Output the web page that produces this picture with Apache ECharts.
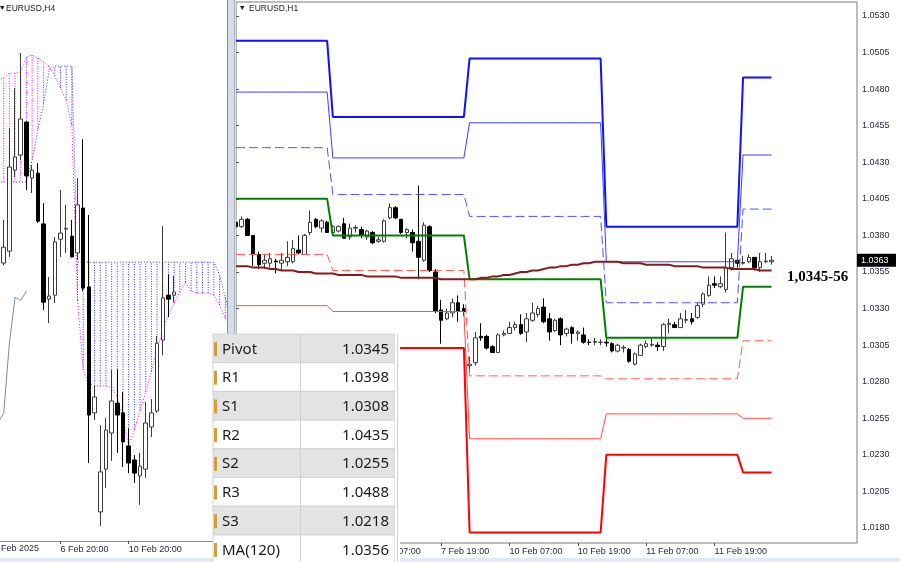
<!DOCTYPE html>
<html><head><meta charset="utf-8">
<script src="https://cdn.jsdelivr.net/npm/echarts@6/dist/echarts.min.js"></script>
<style>html,body{margin:0;padding:0;background:#fff;overflow:hidden}#c{width:900px;height:562px}</style>
</head><body><div id="c"></div>
<script>
// ================= H1 panel (right) =================
const h1Days = ['6 Feb', '7 Feb', '10 Feb', '11 Feb', '12 Feb'];
const h1FirstHour = [7, 0, 0, 0, 0];
const h1LastHour = [23, 23, 23, 23, 20];
const h1TickHours = ['07', '19'];
const h1LastTickLabel = '11 Feb 19:00';

// [open, close, low, high]
const h1Candles = [
 [1.0389,1.0386,1.0385,1.0390],[1.0386,1.0391,1.0385,1.0393],[1.0391,1.0380,1.0380,1.0392],[1.0380,1.0367,1.0359,1.0380],
 [1.0367,1.0360,1.0357,1.0369],[1.0361,1.0363,1.0357,1.0367],[1.0361,1.0364,1.0358,1.0368],[1.03625,1.0362,1.0354,1.0364],
 [1.0361,1.0363,1.0356,1.0368],[1.0362,1.0365,1.0359,1.0376],[1.0362,1.0371,1.0361,1.0377],[1.0370,1.0368,1.0367,1.0380],
 [1.0367,1.0380,1.0367,1.0381],[1.0382,1.0389,1.0380,1.0397],[1.0391,1.0386,1.0385,1.0392],[1.0385,1.0390,1.0382,1.0391],
 [1.0389,1.0382,1.0382,1.0390],[1.0382,1.0386,1.0382,1.0387],[1.0383,1.0386,1.0382,1.0387],[1.0388,1.0378,1.0378,1.0392],
 [1.0379,1.0385,1.0377,1.0388],[1.0385,1.03855,1.0382,1.0387],[1.0384,1.0380,1.0378,1.0386],[1.0379,1.0383,1.0377,1.0384],
 [1.0382,1.0375,1.0374,1.0383],[1.0376,1.0377,1.0375,1.0379],[1.0376,1.0390,1.0375,1.0391],[1.0392,1.0399,1.0391,1.0402],
 [1.0399,1.0392,1.0391,1.0400],[1.0391,1.0382,1.0381,1.0391],[1.0382,1.0384,1.0378,1.0385],[1.0382,1.0375,1.0369,1.0384],
 [1.0376,1.0365,1.0350,1.0414],[1.0363,1.0387,1.0362,1.0389],[1.0386,1.0356,1.0355,1.0387],[1.0355,1.0328,1.0327,1.0357],
 [1.0329,1.0322,1.0306,1.0336],[1.0323,1.0327,1.0322,1.0330],[1.0327,1.0334,1.0324,1.0337],[1.0334,1.0328,1.0321,1.0339],
 [1.0330,1.0328,1.0325,1.0333],[1.0291,1.0292,1.0287,1.0297],[1.0293,1.0310,1.0291,1.0314],[1.0311,1.0310,1.0308,1.0320],
 [1.0311,1.0303,1.0302,1.0312],[1.0304,1.0300,1.0300,1.0305],[1.0300,1.0312,1.0300,1.0313],[1.0312,1.0313,1.0311,1.0315],
 [1.0313,1.0317,1.0313,1.0321],[1.0317,1.0319,1.0315,1.0321],[1.0319,1.0313,1.0312,1.0326],[1.0314,1.0323,1.0307,1.0327],
 [1.0322,1.0327,1.0321,1.0334],[1.0326,1.0330,1.0324,1.0332],[1.0331,1.0321,1.0320,1.0337],[1.0323,1.0314,1.0308,1.0327],
 [1.0315,1.0322,1.0314,1.0323],[1.0323,1.0312,1.0305,1.0324],[1.0313,1.0316,1.0311,1.0317],[1.0317,1.0313,1.0306,1.0318],
 [1.0313,1.0314,1.0308,1.0315],[1.0312,1.0307,1.0306,1.0317],[1.0307,1.03068,1.0305,1.0309],[1.0307,1.03075,1.0305,1.0310],
 [1.0307,1.0307,1.0305,1.0309],[1.0307,1.03065,1.0304,1.0310],[1.0306,1.0301,1.0300,1.0307],[1.0301,1.0305,1.0300,1.0306],
 [1.0303,1.03035,1.0300,1.0305],[1.0302,1.0294,1.0293,1.0303],[1.0292,1.0299,1.0291,1.0300],[1.0298,1.0305,1.0298,1.0306],
 [1.0304,1.0306,1.0303,1.0308],[1.0305,1.03055,1.0304,1.0310],[1.0305,1.0304,1.0301,1.0307],[1.0304,1.0319,1.0301,1.0320],
 [1.0319,1.0320,1.0313,1.0323],[1.0319,1.0317,1.0317,1.0321],[1.0317,1.0323,1.0317,1.0327],[1.0322,1.03225,1.0320,1.0329],
 [1.0323,1.0321,1.0319,1.0327],[1.0324,1.0332,1.0323,1.0334],[1.0333,1.0340,1.0331,1.0341],[1.0339,1.0346,1.0338,1.0352],
 [1.0347,1.0346,1.0344,1.0352],[1.0345,1.0347,1.0344,1.0352],[1.0343,1.0358,1.0341,1.0382],[1.0358,1.0364,1.0356,1.0368],
 [1.0363,1.0361,1.0358,1.0365],[1.0361,1.03615,1.0360,1.0366],[1.0362,1.0365,1.0361,1.0367],[1.0365,1.0358,1.0356,1.0365],
 [1.0358,1.0362,1.0355,1.0368],[1.0362,1.03625,1.0361,1.0368],[1.0362,1.0363,1.0360,1.0366]
];

// daily pivot levels (one value per day in h1Days)
const levelR3 = [1.0513, 1.0461, 1.0501, 1.0386, 1.0488];
const levelR2 = [1.0478, 1.0433, 1.0457, 1.0362, 1.0435];
const levelR1 = [1.0440, 1.0408, 1.0393, 1.0334, 1.0398];
const levelP  = [1.0405, 1.0380, 1.0350, 1.0310, 1.0345];
const levelS1 = [1.0367, 1.0356, 1.0284, 1.0282, 1.0308];
const levelS2 = [1.0332, 1.0328, 1.0241, 1.0258, 1.0255];
const levelS3 = [1.0294, 1.0303, 1.0177, 1.0230, 1.0218];

const ma120 = [
 1.0359,1.0359,1.0359,1.0358,1.0358,
 1.0358,1.0357,1.0357,1.0356,1.0356,1.0356,
 1.0355,1.0355,1.0355,1.0354,1.0354,1.0354,
 1.0354,1.0353,1.0353,1.0353,1.0353,1.0353,1.0352,1.0352,1.0352,
 1.0352,1.0352,1.0352,1.0351,1.0351,1.0351,1.0351,1.0351,1.0351,1.0351,
 1.0350,1.0350,1.0350,1.0350,1.0350,1.0350,1.0350,1.0351,1.0351,1.0352,
 1.0352,1.0353,1.0353,1.0354,1.0355,1.0355,1.0356,1.0356,1.0357,1.0358,1.0358,1.0359,1.0359,1.0360,1.0360,1.0361,1.0361,1.0362,1.0362,
 1.0362,1.0362,1.0362,1.0361,1.0361,1.0361,1.0361,1.0360,1.0360,1.0360,1.0360,1.0360,1.0359,1.0359,1.0359,1.0359,1.0359,1.0358,1.0358,1.0358,1.0358,1.0358,1.0357,1.0357,1.0357,1.0357,1.0357,1.0356,1.0356,1.0356
];

const priceAxisMin = 1.0180, priceAxisMax = 1.0530, priceAxisStep = 0.0025;
const lastPrice = 1.0363;
const zoneLabel = '1,0345-56';
const tableNames  = ['Pivot', 'R1', 'S1', 'R2', 'S2', 'R3', 'S3', 'MA(120)'];
const tableValues = ['1.0345', '1.0398', '1.0308', '1.0435', '1.0255', '1.0488', '1.0218', '1.0356'];

// ================= H4 panel (left) =================
const h4Days = ['5 Feb', '6 Feb', '7 Feb', '10 Feb', '11 Feb', '12 Feb', '13 Feb'];
const h4Hours = ['00:00', '04:00', '08:00', '12:00', '16:00', '20:00'];
const h4TickLabels = ['6 Feb 20:00', '10 Feb 20:00'];
const h4YearLabel = 'Feb 2025';
// first candle sits on the 2nd category (5 Feb 04:00)
const h4Candles = [
 [1.03712,1.03764,1.03705,1.03853],[1.03751,1.04026,1.03732,1.04153],[1.04016,1.04059,1.03993,1.04284],[1.04065,1.04183,1.04049,1.04399],
 [1.04173,1.03997,1.03951,1.04176],[1.03990,1.04016,1.03941,1.04032],[1.04006,1.03849,1.03843,1.04039],[1.03840,1.03584,1.03558,1.03908],
 [1.03594,1.03604,1.03516,1.03666],[1.03607,1.03781,1.03581,1.03797],[1.03790,1.03810,1.03732,1.03951],[1.03823,1.03826,1.03745,1.03902],
 [1.03800,1.03732,1.03730,1.03853],[1.03745,1.03902,1.03722,1.03990],[1.03892,1.03630,1.03620,1.04117],[1.03634,1.03215,1.03058,1.03869],
 [1.03222,1.03274,1.03199,1.03313],[1.02898,1.03029,1.02852,1.03182],[1.03038,1.03166,1.02976,1.03205],[1.03156,1.03261,1.03065,1.03362],
 [1.03254,1.03215,1.03091,1.03365],[1.03222,1.03127,1.03045,1.03290],[1.03114,1.03058,1.03025,1.03172],[1.03068,1.03025,1.02993,1.03084],
 [1.03016,1.03048,1.02921,1.03091],[1.03038,1.03189,1.03009,1.03258],[1.03176,1.03222,1.03143,1.03267],[1.03228,1.03450,1.03222,1.03473],
 [1.03460,1.03598,1.03411,1.03833],[1.03607,1.03594,1.03535,1.03673],[1.03607,1.03617,1.03584,1.03670]
];
const spanA = [1.04310,1.04317,1.04333,1.04333,1.04337,1.04386,1.04392,1.04382,1.04369,1.04356,
 1.04323,1.04284,1.04245,1.04163,1.03591,1.03362,1.03320,1.03310,1.03310,1.03310,
 1.03306,1.03274,1.03199,1.03117,1.03166,1.03231,1.03290,1.03356,1.03428,1.03493,
 1.03542,1.03581,1.03617,1.03650,1.03620,1.03614,1.03614,1.03614,1.03607,1.03575,1.03532,1.03499];
const spanB = [1.03977,1.03977,1.03977,1.03977,1.03977,1.03977,1.04049,1.04147,1.04229,1.04343,
 1.04356,1.04356,1.04356,1.04356,1.03715,1.03715,1.03715,1.03715,1.03715,1.03715,
 1.03715,1.03715,1.03715,1.03715,1.03715,1.03715,1.03715,1.03715,1.03715,1.03715,
 1.03715,1.03715,1.03715,1.03715,1.03715,1.03715,1.03715,1.03715,1.03715,1.03673,1.03601,1.03526];
const chikou = [1.0319, 1.0322, 1.0345, 1.0360, 1.0359, 1.0362];

// ---------- build categories ----------
const h1Cats = [], h1DayOf = [];
h1Days.forEach((d, k) => {
  for (let h = h1FirstHour[k]; h <= h1LastHour[k]; h++) {
    h1Cats.push(d + ' ' + String(h).padStart(2, '0') + ':00');
    h1DayOf.push(k);
  }
});
const lastTickIdx = h1Cats.indexOf(h1LastTickLabel);
const h1Tick = (idx) => idx <= lastTickIdx && h1TickHours.includes(h1Cats[idx].slice(-5, -3));
const h4Cats = [];
h4Days.forEach(d => h4Hours.forEach(h => h4Cats.push(d + ' ' + h)));
const h4Tick = (idx) => h4TickLabels.includes(h4Cats[idx]);

const levelLine = (lv) => h1Candles.map((c, i) => lv[h1DayOf[i]]);
const h4Data = ['-'].concat(h4Candles);
const cloudData = spanA.map((a, i) => [i, a, spanB[i]]);

const axisFont = { fontFamily: 'Liberation Sans, Arial, sans-serif', fontSize: 9, color: '#2a2a3a' };
const candleStyle = { color: '#ffffff', color0: '#000000', borderColor: '#3a3a3a', borderColor0: '#000000', borderColorDoji: '#3a3a3a', borderWidth: 1 };

const chart = echarts.init(document.getElementById('c'), null, { renderer: 'canvas' });

function lineSeries(data, color, width, type, z) {
  return { type: 'line', xAxisIndex: 1, yAxisIndex: 1, data: data, symbol: 'none', silent: true,
    lineStyle: { color: color, width: width, type: type }, z: z || 4, animation: false };
}

chart.setOption({
  animation: false,
  backgroundColor: '#ffffff',
  grid: [
    { left: -1.98, width: 232.9, top: 1, height: 540, containLabel: false, outerBoundsMode: 'none' },
    { left: 236, right: 43, top: 2, bottom: 19, containLabel: false, outerBoundsMode: 'none', show: true, borderColor: '#7a7a7a', borderWidth: 1, backgroundColor: '#ffffff' },
    { left: 236, right: 43, top: 16, bottom: 34, containLabel: false, outerBoundsMode: 'none' }
  ],
  xAxis: [
    { gridIndex: 0, type: 'category', data: h4Cats, boundaryGap: false,
      axisLine: { show: true, lineStyle: { color: '#8a8a8a' } },
      axisTick: { show: true, interval: h4Tick, length: 3, lineStyle: { color: '#555' } },
      axisLabel: Object.assign({ show: true, interval: h4Tick, align: 'left', margin: 4, hideOverlap: false }, axisFont),
      splitLine: { show: false } },
    { gridIndex: 1, type: 'category', data: h1Cats, boundaryGap: false,
      axisLine: { show: false },
      axisTick: { show: true, interval: h1Tick, length: 3, lineStyle: { color: '#555' } },
      axisLabel: Object.assign({ show: true, interval: h1Tick, align: 'left', margin: 4, hideOverlap: false }, axisFont),
      splitLine: { show: false } },
    { gridIndex: 2, type: 'value', show: false }
  ],
  yAxis: [
    { gridIndex: 0, type: 'value', min: 1.02803, max: 1.04569, show: false, splitLine: { show: false } },
    { gridIndex: 1, type: 'value', min: 1.016975, max: 1.053957, show: false, splitLine: { show: false } },
    { gridIndex: 2, type: 'value', position: 'right', min: priceAxisMin, max: priceAxisMax, interval: priceAxisStep,
      axisLine: { show: false },
      axisTick: { show: true, length: 3, lineStyle: { color: '#555' } },
      axisLabel: Object.assign({ margin: 5, formatter: v => v.toFixed(4), hideOverlap: false }, axisFont),
      splitLine: { show: false } }
  ],
  series: [
    { type: 'custom', xAxisIndex: 0, yAxisIndex: 0, data: cloudData, encode: { x: 0, y: [1, 2] }, silent: true, z: 1,
      renderItem: function (params, api) {
        const c = api.value(0), a = api.value(1), b = api.value(2);
        const p1 = api.coord([c, a]), p2 = api.coord([c, b]);
        return { type: 'line', shape: { x1: p1[0], y1: p1[1], x2: p2[0], y2: p2[1] },
          style: { stroke: a > b ? '#ff00ff' : '#2f2fff', lineWidth: 1, lineDash: [1, 1.5] } };
      } },
    { type: 'line', xAxisIndex: 0, yAxisIndex: 0, data: spanA, symbol: 'none', silent: true, z: 2,
      lineStyle: { color: '#ff00ff', width: 1, type: [1, 2] } },
    { type: 'line', xAxisIndex: 0, yAxisIndex: 0, data: spanB, symbol: 'none', silent: true, z: 2,
      lineStyle: { color: '#2f2fff', width: 1, type: [1, 2] } },
    { type: 'line', xAxisIndex: 0, yAxisIndex: 0, data: chikou, symbol: 'none', silent: true, z: 2,
      lineStyle: { color: '#7d8b99', width: 1 } },
    { type: 'candlestick', xAxisIndex: 0, yAxisIndex: 0, data: h4Data, barWidth: 4, itemStyle: candleStyle, z: 3, silent: true },

    { type: 'candlestick', xAxisIndex: 1, yAxisIndex: 1, data: h1Candles, barWidth: 4, itemStyle: candleStyle, z: 3, silent: true },
    lineSeries(levelLine(levelR3), '#1010ff', 2, 'solid'),
    lineSeries(levelLine(levelR2), '#3d3dff', 1, 'solid'),
    lineSeries(levelLine(levelR1), '#5252ff', 1, [9, 4]),
    lineSeries(levelLine(levelP), '#008000', 2, 'solid'),
    lineSeries(levelLine(levelS1), '#ff5a5a', 1, [9, 4]),
    lineSeries(levelLine(levelS2), '#ff4a4a', 1, 'solid'),
    lineSeries(levelLine(levelS3), '#ff0000', 2, 'solid'),
    lineSeries(ma120, '#861b1b', 2, 'solid', 5)
  ]
});

// ---------- overlay graphics ----------
const g = [];
const Z = 100;
// splitter between panels
g.push({ type: 'rect', shape: { x: 227, y: 0, width: 9, height: 562 }, style: { fill: '#d6dde6' }, z: Z });
g.push({ type: 'line', shape: { x1: 227.5, y1: 0, x2: 227.5, y2: 562 }, style: { stroke: '#8c8c8c', lineWidth: 1 }, z: Z });
g.push({ type: 'line', shape: { x1: 234.5, y1: 0, x2: 234.5, y2: 562 }, style: { stroke: '#a8b0bb', lineWidth: 1 }, z: Z });
// bottom strip
g.push({ type: 'rect', shape: { x: 0, y: 558, width: 900, height: 4 }, style: { fill: '#e2e9f2' }, z: Z - 1 });
// titles
g.push({ type: 'polygon', shape: { points: [[0, 6], [4.5, 6], [2.25, 10]] }, style: { fill: '#222' }, z: Z });
g.push({ type: 'text', x: 6, y: 8.5, style: { text: 'EURUSD,H4', fontFamily: 'Liberation Sans, Arial', fontSize: 8.5, fill: '#222', verticalAlign: 'middle' }, z: Z });
g.push({ type: 'polygon', shape: { points: [[240, 6], [244.5, 6], [242.25, 10]] }, style: { fill: '#222' }, z: Z });
g.push({ type: 'text', x: 249, y: 8.5, style: { text: 'EURUSD,H1', fontFamily: 'Liberation Sans, Arial', fontSize: 8.5, fill: '#222', verticalAlign: 'middle' }, z: Z });
// year label of left panel
g.push({ type: 'text', x: 1, y: 549, style: { text: h4YearLabel, fontFamily: axisFont.fontFamily, fontSize: 9, fill: axisFont.color, verticalAlign: 'middle' }, z: Z });
// zone label
g.push({ type: 'text', x: 787, y: 277, style: { text: zoneLabel, fontFamily: 'Liberation Serif, Times New Roman, serif', fontWeight: 'bold', fontSize: 15, fill: '#000', verticalAlign: 'middle' }, z: Z });
// current price box
const py = chart.convertToPixel({ yAxisIndex: 1 }, lastPrice);
g.push({ type: 'rect', shape: { x: 857, y: py - 6.5, width: 39, height: 13 }, style: { fill: '#000' }, z: Z });
g.push({ type: 'text', x: 861, y: py, style: { text: lastPrice.toFixed(4), fontFamily: axisFont.fontFamily, fontSize: 9, fill: '#fff', verticalAlign: 'middle' }, z: Z + 1 });
// table
const tTop = 334, rowH = 28.7, tx0 = 213, tx1 = 395;
tableNames.forEach((name, k) => {
  const y = tTop + k * rowH;
  g.push({ type: 'rect', shape: { x: tx0, y: y, width: tx1 - tx0, height: rowH }, style: { fill: k % 2 === 0 ? '#e3e3e3' : '#ffffff', stroke: '#d2d2d2', lineWidth: 1 }, z: Z });
  g.push({ type: 'rect', shape: { x: 214, y: y + 8, width: 3, height: 14 }, style: { fill: '#cfa03a' }, z: Z + 1 });
  g.push({ type: 'text', x: 222, y: y + rowH / 2 + 1, style: { text: name, fontFamily: 'Noto Sans, Open Sans, sans-serif', fontSize: 15, fill: '#1c1c1c', verticalAlign: 'middle' }, z: Z + 2 });
  g.push({ type: 'text', x: 389, y: y + rowH / 2 + 1, style: { text: tableValues[k], fontFamily: 'Noto Sans, Open Sans, sans-serif', fontSize: 15, fill: '#1c1c1c', align: 'right', verticalAlign: 'middle' }, z: Z + 2 });
});
g.push({ type: 'line', shape: { x1: 300.5, y1: tTop, x2: 300.5, y2: 562 }, style: { stroke: '#cfcfcf', lineWidth: 1 }, z: Z + 1 });
g.push({ type: 'rect', shape: { x: tx1, y: tTop, width: 5, height: 562 - tTop }, style: { fill: '#ffffff' }, z: Z });
g.push({ type: 'line', shape: { x1: 397.5, y1: tTop, x2: 397.5, y2: 562 }, style: { stroke: '#d0d0d0', lineWidth: 1 }, z: Z + 1 });

chart.setOption({ graphic: { elements: g } });
</script>
</body></html>
